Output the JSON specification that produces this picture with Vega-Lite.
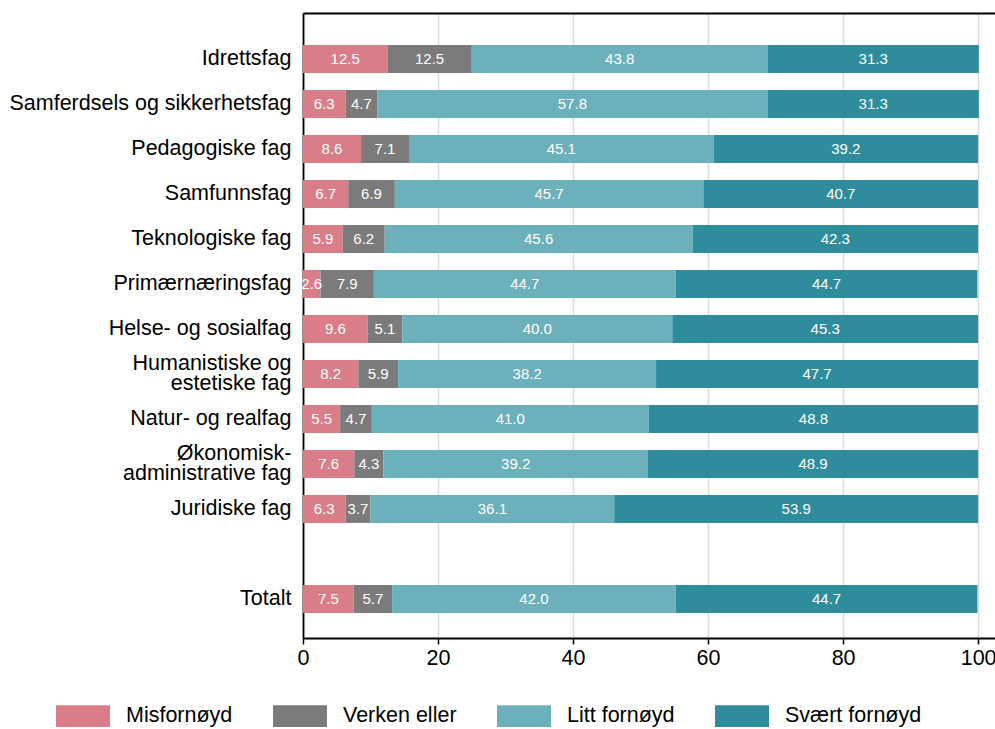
{
  "$schema": "https://vega.github.io/schema/vega-lite/v6.json",
  "autosize": {"type": "none"},
  "padding": {"left": 303, "top": 13, "right": 0, "bottom": 91},
  "width": 692,
  "height": 625,
  "background": "white",
  "config": {"font": "Liberation Sans", "view": {"stroke": null}},
  "data": {"values": [
    {"fag": "Idrettsfag", "kat": "Misfornøyd", "v": 12.5},
    {"fag": "Idrettsfag", "kat": "Verken eller", "v": 12.5},
    {"fag": "Idrettsfag", "kat": "Litt fornøyd", "v": 43.8},
    {"fag": "Idrettsfag", "kat": "Svært fornøyd", "v": 31.3},
    {"fag": "Samferdsels og sikkerhetsfag", "kat": "Misfornøyd", "v": 6.3},
    {"fag": "Samferdsels og sikkerhetsfag", "kat": "Verken eller", "v": 4.7},
    {"fag": "Samferdsels og sikkerhetsfag", "kat": "Litt fornøyd", "v": 57.8},
    {"fag": "Samferdsels og sikkerhetsfag", "kat": "Svært fornøyd", "v": 31.3},
    {"fag": "Pedagogiske fag", "kat": "Misfornøyd", "v": 8.6},
    {"fag": "Pedagogiske fag", "kat": "Verken eller", "v": 7.1},
    {"fag": "Pedagogiske fag", "kat": "Litt fornøyd", "v": 45.1},
    {"fag": "Pedagogiske fag", "kat": "Svært fornøyd", "v": 39.2},
    {"fag": "Samfunnsfag", "kat": "Misfornøyd", "v": 6.7},
    {"fag": "Samfunnsfag", "kat": "Verken eller", "v": 6.9},
    {"fag": "Samfunnsfag", "kat": "Litt fornøyd", "v": 45.7},
    {"fag": "Samfunnsfag", "kat": "Svært fornøyd", "v": 40.7},
    {"fag": "Teknologiske fag", "kat": "Misfornøyd", "v": 5.9},
    {"fag": "Teknologiske fag", "kat": "Verken eller", "v": 6.2},
    {"fag": "Teknologiske fag", "kat": "Litt fornøyd", "v": 45.6},
    {"fag": "Teknologiske fag", "kat": "Svært fornøyd", "v": 42.3},
    {"fag": "Primærnæringsfag", "kat": "Misfornøyd", "v": 2.6},
    {"fag": "Primærnæringsfag", "kat": "Verken eller", "v": 7.9},
    {"fag": "Primærnæringsfag", "kat": "Litt fornøyd", "v": 44.7},
    {"fag": "Primærnæringsfag", "kat": "Svært fornøyd", "v": 44.7},
    {"fag": "Helse- og sosialfag", "kat": "Misfornøyd", "v": 9.6},
    {"fag": "Helse- og sosialfag", "kat": "Verken eller", "v": 5.1},
    {"fag": "Helse- og sosialfag", "kat": "Litt fornøyd", "v": 40.0},
    {"fag": "Helse- og sosialfag", "kat": "Svært fornøyd", "v": 45.3},
    {"fag": "Humanistiske og|estetiske fag", "kat": "Misfornøyd", "v": 8.2},
    {"fag": "Humanistiske og|estetiske fag", "kat": "Verken eller", "v": 5.9},
    {"fag": "Humanistiske og|estetiske fag", "kat": "Litt fornøyd", "v": 38.2},
    {"fag": "Humanistiske og|estetiske fag", "kat": "Svært fornøyd", "v": 47.7},
    {"fag": "Natur- og realfag", "kat": "Misfornøyd", "v": 5.5},
    {"fag": "Natur- og realfag", "kat": "Verken eller", "v": 4.7},
    {"fag": "Natur- og realfag", "kat": "Litt fornøyd", "v": 41.0},
    {"fag": "Natur- og realfag", "kat": "Svært fornøyd", "v": 48.8},
    {"fag": "Økonomisk-|administrative fag", "kat": "Misfornøyd", "v": 7.6},
    {"fag": "Økonomisk-|administrative fag", "kat": "Verken eller", "v": 4.3},
    {"fag": "Økonomisk-|administrative fag", "kat": "Litt fornøyd", "v": 39.2},
    {"fag": "Økonomisk-|administrative fag", "kat": "Svært fornøyd", "v": 48.9},
    {"fag": "Juridiske fag", "kat": "Misfornøyd", "v": 6.3},
    {"fag": "Juridiske fag", "kat": "Verken eller", "v": 3.7},
    {"fag": "Juridiske fag", "kat": "Litt fornøyd", "v": 36.1},
    {"fag": "Juridiske fag", "kat": "Svært fornøyd", "v": 53.9},
    {"fag": "Totalt", "kat": "Misfornøyd", "v": 7.5},
    {"fag": "Totalt", "kat": "Verken eller", "v": 5.7},
    {"fag": "Totalt", "kat": "Litt fornøyd", "v": 42.0},
    {"fag": "Totalt", "kat": "Svært fornøyd", "v": 44.7}
  ]},
  "transform": [
    {"calculate": "indexof(['Misfornøyd','Verken eller','Litt fornøyd','Svært fornøyd'], datum.kat)", "as": "o"},
    {"stack": "v", "groupby": ["fag"], "sort": [{"field": "o", "order": "ascending"}], "as": ["x0", "x1"]},
    {"calculate": "(datum.x0 + datum.x1) / 2", "as": "mid"}
  ],
  "encoding": {
    "y": {
      "field": "fag", "type": "nominal", "title": null,
      "scale": {
        "type": "band",
        "domain": ["Idrettsfag", "Samferdsels og sikkerhetsfag", "Pedagogiske fag", "Samfunnsfag", "Teknologiske fag", "Primærnæringsfag", "Helse- og sosialfag", "Humanistiske og|estetiske fag", "Natur- og realfag", "Økonomisk-|administrative fag", "Juridiske fag", " ", "Totalt"],
        "paddingInner": 0.378, "paddingOuter": 0.633, "align": 0.56
      },
      "axis": {
        "labelExpr": "split(datum.label, '|')",
        "labelOffset": {"expr": "indexof(datum.label, '|') >= 0 ? -10 : 0"},
        "labelFontSize": 21.5, "labelColor": "#000000", "labelPadding": 12, "labelLineHeight": 20,
        "ticks": false, "domainColor": "#000000", "domainWidth": 1.8, "grid": false, "labelLimit": 400
      }
    }
  },
  "layer": [
    {
      "mark": {"type": "bar"},
      "encoding": {
        "x": {
          "field": "x0", "type": "quantitative", "title": null,
          "scale": {"domain": [0, 102.5], "nice": false, "zero": false},
          "axis": {
            "orient": "bottom", "values": [0, 20, 40, 60, 80, 100], "grid": true,
            "gridColor": "#dcdcdc", "gridWidth": 1.5, "domainColor": "#000000", "domainWidth": 2,
            "tickColor": "#000000", "tickSize": 6, "tickWidth": 1.5, "labelFontSize": 21.5,
            "labelColor": "#000000", "labelPadding": 3, "labelFlush": false
          }
        },
        "x2": {"field": "x1"},
        "color": {
          "field": "kat", "type": "nominal",
          "scale": {
            "domain": ["Misfornøyd", "Verken eller", "Litt fornøyd", "Svært fornøyd"],
            "range": ["#d97e88", "#7b7b7b", "#6cb0bb", "#2e8c9d"]
          },
          "legend": {
            "title": null, "orient": "none", "legendX": -247, "legendY": 676,
            "direction": "horizontal", "columns": 4, "columnPadding": 40,
            "symbolType": "M-1,-0.4H1V0.4H-1Z", "symbolSize": 2916, "symbolStrokeWidth": 0,
            "symbolOpacity": 1, "labelFontSize": 21.5, "labelColor": "#000000", "labelOffset": 16,
            "padding": 0, "labelLimit": 300
          }
        }
      }
    },
    {
      "mark": {"type": "text", "color": "white", "fontSize": 15, "align": "center", "baseline": "middle"},
      "encoding": {
        "x": {
          "field": "mid", "type": "quantitative",
          "axis": {"orient": "top", "labels": false, "ticks": false, "grid": false, "domainColor": "#000000", "domainWidth": 1.8, "title": null}
        },
        "text": {"field": "v", "type": "quantitative", "format": ".1f"}
      }
    }
  ],
  "resolve": {"axis": {"x": "independent"}}
}
